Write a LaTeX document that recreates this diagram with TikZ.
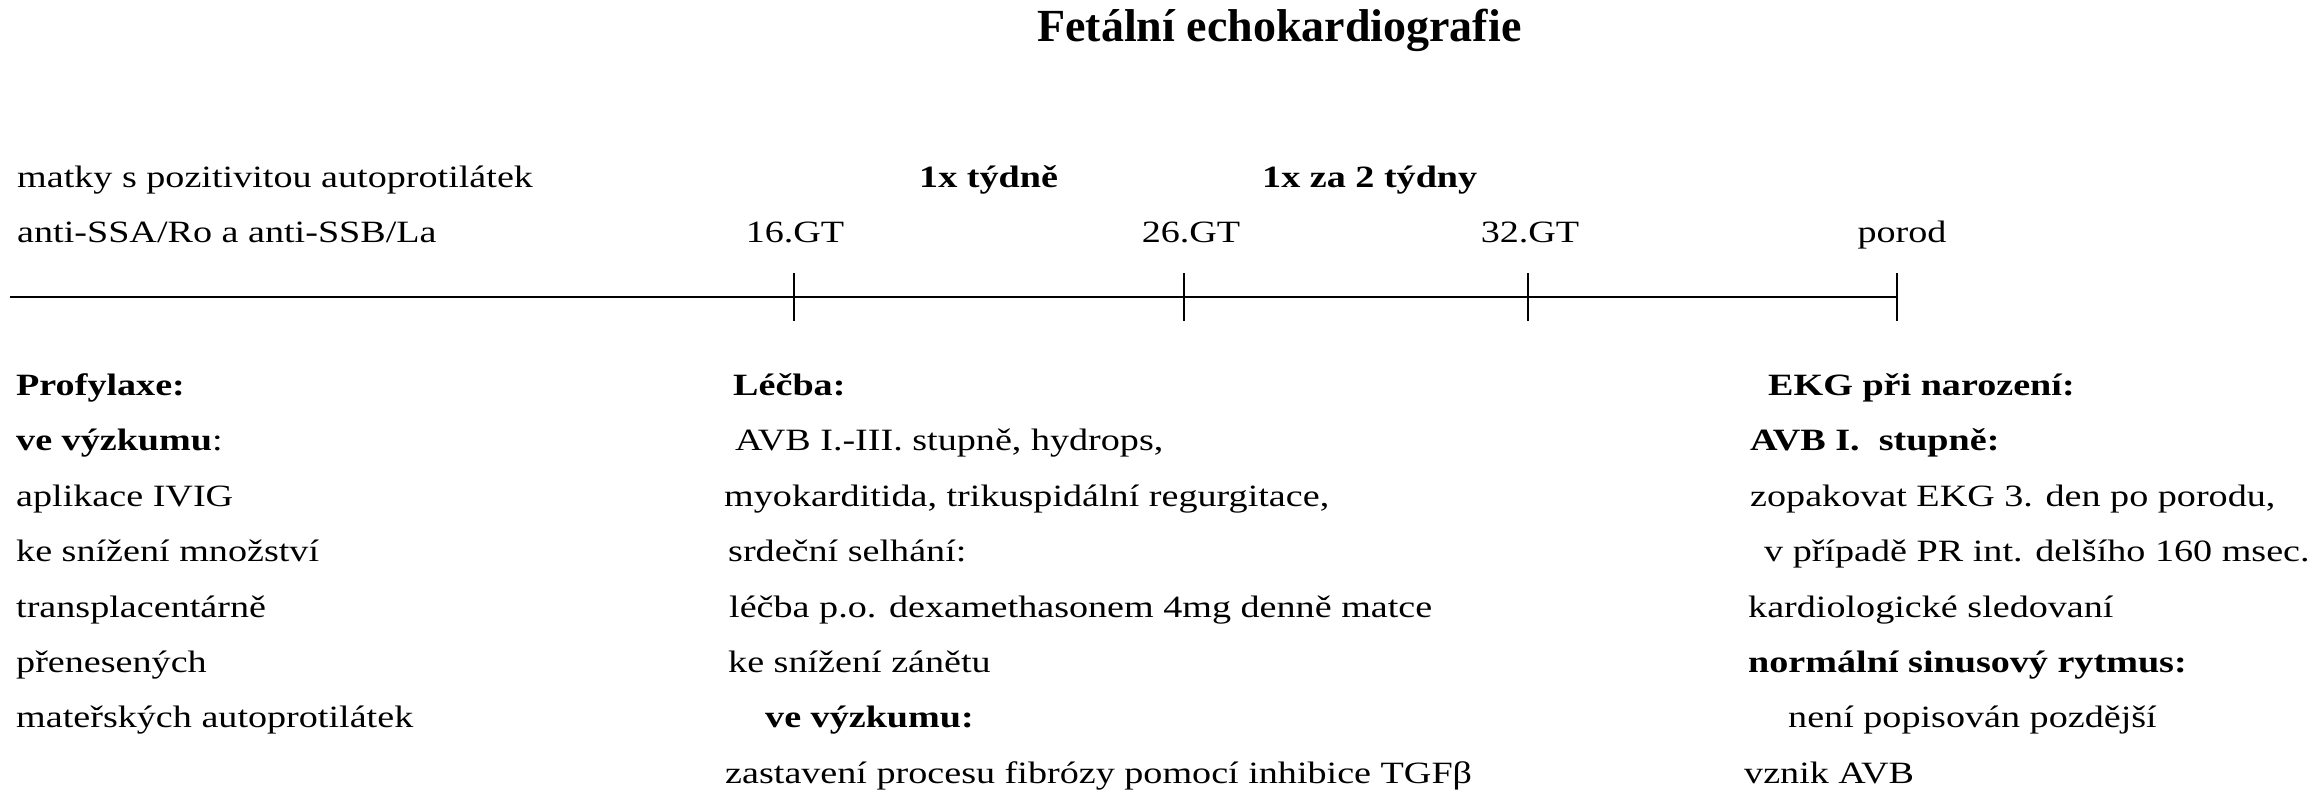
\documentclass[tikz,border=0pt]{standalone}
\usepackage{fontspec}
\setmainfont{Liberation Serif}[FakeStretch=1.23]
\newfontfamily\titlefont{Liberation Serif}
\begin{document}
\begin{tikzpicture}[x=1pt,y=1pt,
  txt/.style={anchor=base west,inner sep=0pt,font=\fontsize{31}{31}\selectfont},
  bld/.style={txt,font=\fontsize{31}{31}\selectfont\bfseries},
  gt/.style={anchor=base,inner sep=0pt,font=\fontsize{31}{31}\selectfont},
  axis/.style={line width=2.8pt},
  tick/.style={line width=2.6pt}]
\useasboundingbox (0,0) rectangle (2321,-800);
% title
\node[anchor=base west,inner sep=0pt,font=\titlefont\fontsize{46}{46}\selectfont\bfseries] (title) at (1037,-42) {Fetální echokardiografie};
% top texts
\node[txt] (m1) at (17,-187) {matky s pozitivitou autoprotilátek};
\node[txt] (m2) at (17,-242) {anti-SSA/Ro a anti-SSB/La};
\node[bld] (f1) at (919,-187) {1x týdně};
\node[bld] (f2) at (1262,-187) {1x za 2 týdny};
\node[gt] (g1) at (795,-242) {16.GT};
\node[gt] (g2) at (1191,-242) {26.GT};
\node[gt] (g3) at (1530,-242) {32.GT};
\node[gt] (g4) at (1902,-242) {porod};
% timeline
\coordinate (s) at (10,-297);
\coordinate (t1) at (794,-297);
\coordinate (t2) at (1184,-297);
\coordinate (t3) at (1528,-297);
\coordinate (t4) at (1897,-297);
\coordinate (t1a) at (794,-273); \coordinate (t1b) at (794,-321);
\coordinate (t2a) at (1184,-273); \coordinate (t2b) at (1184,-321);
\coordinate (t3a) at (1528,-273); \coordinate (t3b) at (1528,-321);
\coordinate (t4a) at (1897,-273); \coordinate (t4b) at (1897,-321);
\draw[axis] (s) -- (t4);
\draw[tick] (t1a) -- (t1b);
\draw[tick] (t2a) -- (t2b);
\draw[tick] (t3a) -- (t3b);
\draw[tick] (t4a) -- (t4b);
% left column
\node[bld] (a1) at (16,-395) {Profylaxe:};
\node[txt] (a2) at (16,-450) {\textbf{ve výzkumu}:};
\node[txt] (a3) at (16,-506) {aplikace IVIG};
\node[txt] (a4) at (16,-561) {ke snížení množství};
\node[txt] (a5) at (16,-617) {transplacentárně};
\node[txt] (a6) at (16,-672) {přenesených};
\node[txt] (a7) at (16,-727) {mateřských autoprotilátek};
% middle column
\node[bld] (b1) at (733,-395) {Léčba:};
\node[txt] (b2) at (735,-450) {AVB I.-III. stupně, hydrops,};
\node[txt] (b3) at (724,-506) {myokarditida, trikuspidální regurgitace,};
\node[txt] (b4) at (728,-561) {srdeční selhání:};
\node[txt] (b5) at (729,-617) {léčba p.o. dexamethasonem 4mg denně matce};
\node[txt] (b6) at (728,-672) {ke snížení zánětu};
\node[bld] (b7) at (765,-727) {ve výzkumu:};
\node[txt] (b8) at (725,-783) {zastavení procesu fibrózy pomocí inhibice TGFβ};
% right column
\node[bld] (c1) at (1768,-395) {EKG při narození:};
\node[bld] (c2) at (1750,-450) {AVB I.\ \ stupně:};
\node[txt] (c3) at (1750,-506) {zopakovat EKG 3. den po porodu,};
\node[txt] (c4) at (1764,-561) {v případě PR int. delšího 160 msec.};
\node[txt] (c5) at (1748,-617) {kardiologické sledovaní};
\node[bld] (c6) at (1748,-672) {normální sinusový rytmus:};
\node[txt] (c7) at (1788,-727) {není popisován pozdější};
\node[txt] (c8) at (1744,-783) {vznik AVB};
\end{tikzpicture}
\end{document}
